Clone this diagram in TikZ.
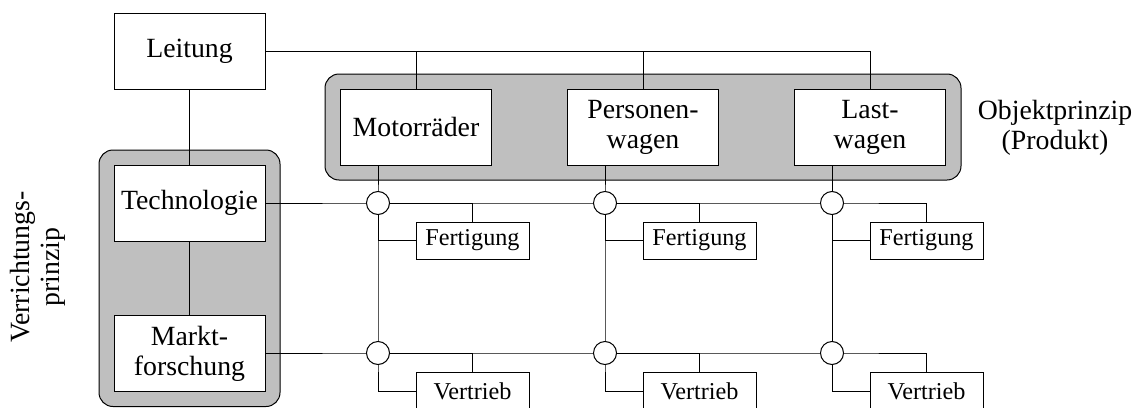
\documentclass[tikz,border=0pt]{standalone}
\usepackage{fontspec}
\setmainfont{Liberation Serif}
\begin{document}
\begin{tikzpicture}[x=0.5pt,y=-0.5pt,
  line width=0.5pt,
  bigbox/.style={draw, fill=white, minimum width=75.5pt, minimum height=38pt,
    inner sep=0pt, align=center, font=\fontsize{13.9}{15}\selectfont},
  smallbox/.style={draw, fill=white, minimum width=56.5pt, minimum height=18.5pt,
    inner sep=0pt, font=\fontsize{12.1}{13}\selectfont},
  joint/.style={draw, fill=white, circle, minimum size=11.5pt, inner sep=0pt},
  group/.style={draw, fill=black!25, rounded corners=7pt},
  label/.style={align=center, font=\fontsize{13.9}{15}\selectfont}]
\useasboundingbox (0,0) rectangle (1140,407);
\clip (0,0) rectangle (1140,407);

% shaded groupings
\draw[group] (325,74) rectangle (961,180);
\draw[group] (99,150) rectangle (280,406.5);

% function (Verrichtung) boxes
\node[bigbox] (leit) at (189.5,51) {Leitung};
\node[bigbox] (tech) at (189.5,203) {Technologie};
\node[bigbox] (mark) at (189.5,353.5) {Markt-\\forschung};

% product (Objekt) boxes
\node[bigbox] (motor) at (416,127) {Motorräder};
\node[bigbox] (pers) at (643,127) {Personen-\\wagen};
\node[bigbox] (last) at (870,127) {Last-\\wagen};

% matrix joints
\foreach \i/\x in {1/378,2/605,3/832}{
  \coordinate (t\i) at (\x,203);
  \coordinate (b\i) at (\x,353);
}

% sub-units
\node[smallbox] (f1) at (472.5,240.5) {Fertigung};
\node[smallbox] (f2) at (699.5,240.5) {Fertigung};
\node[smallbox] (f3) at (926.5,240.5) {Fertigung};
\node[smallbox] (v1) at (472.5,391) {Vertrieb};
\node[smallbox] (v2) at (699.5,391) {Vertrieb};
\node[smallbox] (v3) at (926.5,391) {Vertrieb};

% hierarchy lines
\draw (leit) -- (tech);
\draw (tech) -- (mark);
\draw (leit.east) -| (last.north);
\draw (motor.north) |- (leit.east);
\draw (pers.north) |- (leit.east);

% rows
\draw (tech.east |- t1) -- (t1) -- (t2) -- (t3) -| (f3.north);
\draw (t1) -| (f1.north);
\draw (t2) -| (f2.north);
\draw (mark.east |- b1) -- (b1) -- (b2) -- (b3) -| (v3.north);
\draw (b1) -| (v1.north);
\draw (b2) -| (v2.north);

% columns
\draw (motor.south -| t1) -- (t1) -- (b1) |- (v1.west);
\draw (pers.south -| t2) -- (t2) -- (b2) |- (v2.west);
\draw (last.south -| t3) -- (t3) -- (b3) |- (v3.west);
\draw (t1) |- (f1.west);
\draw (t2) |- (f2.west);
\draw (t3) |- (f3.west);

% joint circles
\foreach \i in {1,2,3}{
  \node[joint] (ct\i) at (t\i) {};
  \node[joint] (cb\i) at (b\i) {};
}

% principle labels
\node[label] (obj) at (1055,128) {Objektprinzip\\(Produkt)};
\node[label, rotate=90] (verr) at (38,267) {Verrichtungs-\\prinzip};
\end{tikzpicture}
\end{document}
